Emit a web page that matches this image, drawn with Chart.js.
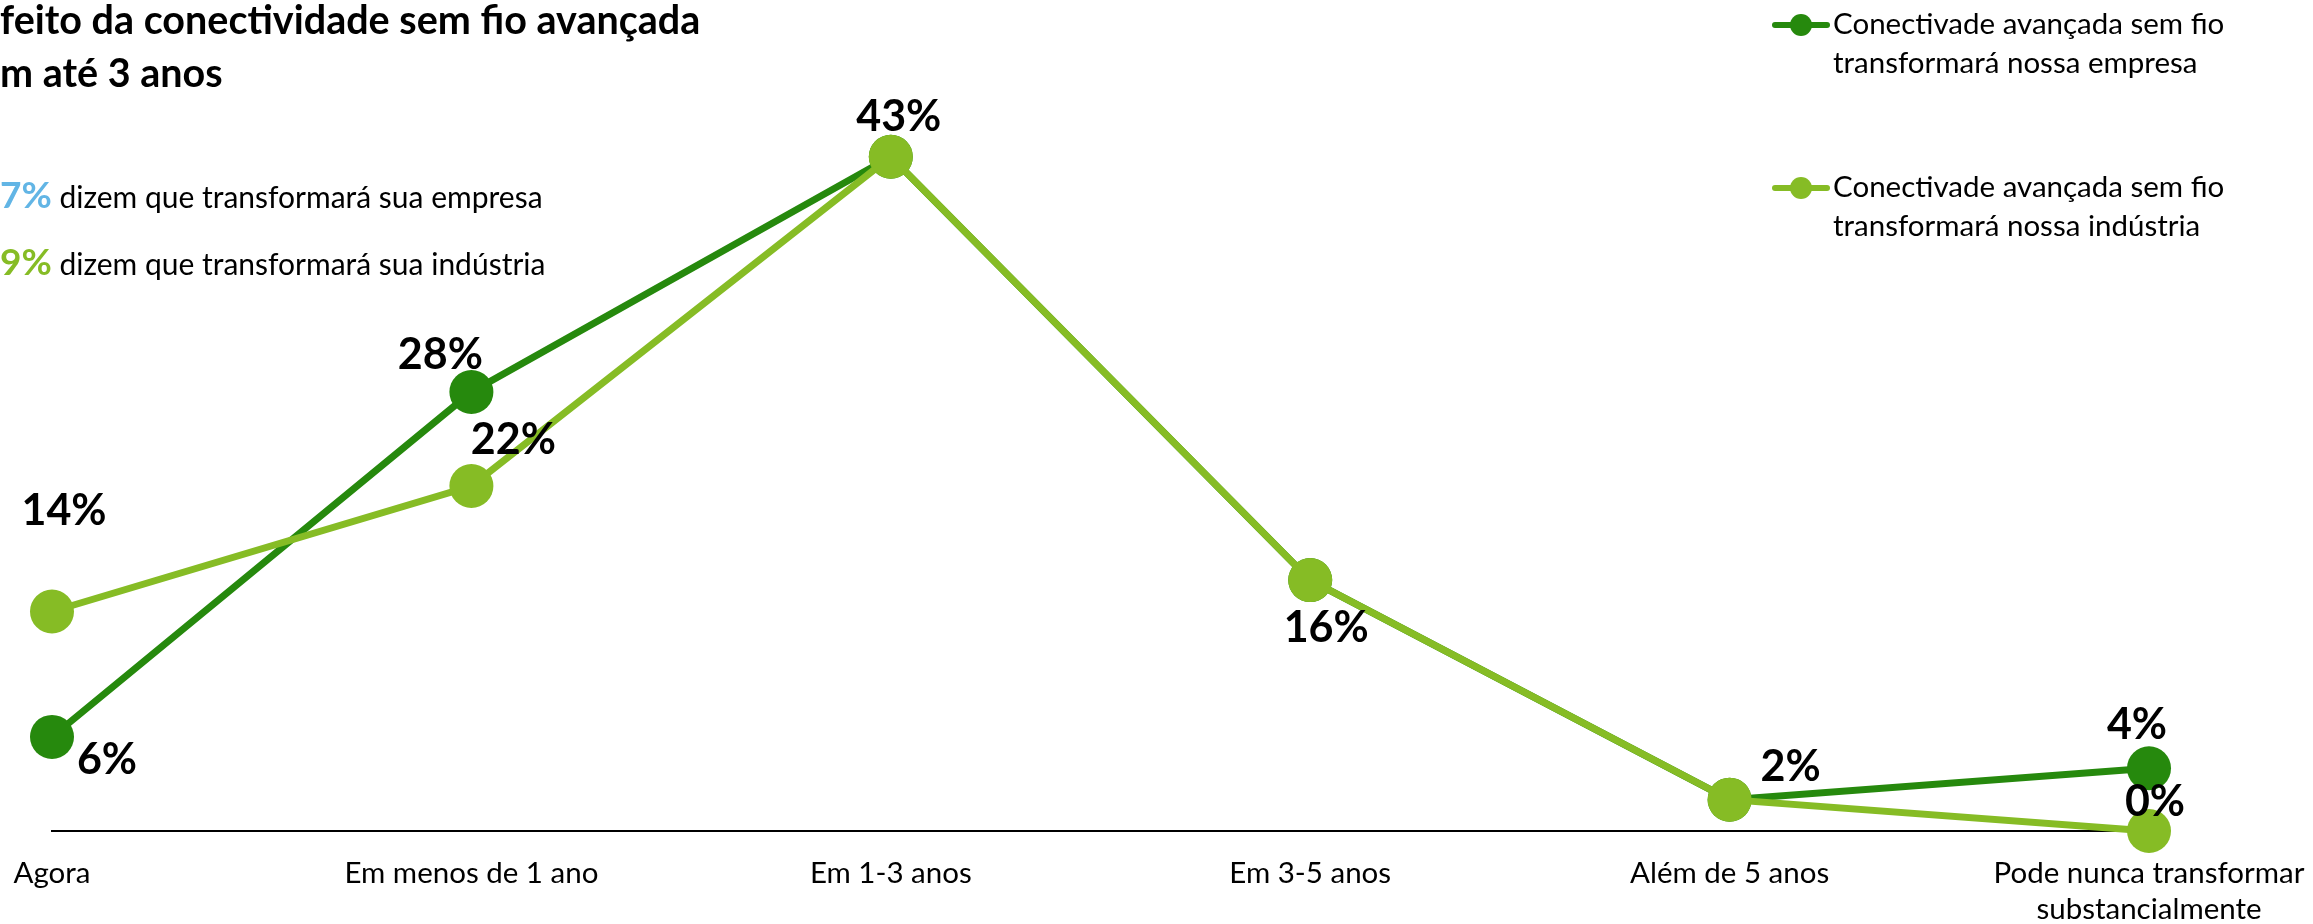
<!DOCTYPE html>
<html>
<head>
<meta charset="utf-8">
<script src="https://cdn.jsdelivr.net/npm/chart.js@4/dist/chart.umd.min.js"></script>
<style>
  body { margin: 0; width: 2313px; height: 924px; position: relative; overflow: hidden; background: #fff; font-family: Lato, sans-serif; color: #000; }
  canvas { position: absolute; left: 0; top: 0; }
  .title { position: absolute; left: 0; top: -8px; font-weight: bold; font-size: 39.5px; line-height: 53px; white-space: nowrap; }
  .sub { position: absolute; left: 0; font-size: 30px; line-height: 1; white-space: nowrap; }
  .sub b { font-size: 37px; line-height: 1; }
  .leg { position: absolute; left: 1833px; font-size: 29.5px; line-height: 39px; white-space: nowrap; }
  .sw { position: absolute; left: 1772px; width: 58px; height: 6px; border-radius: 3px; }
  .sw i { position: absolute; left: 18px; top: -8px; width: 22px; height: 22px; border-radius: 50%; background: inherit; }
</style>
</head>
<body>
<canvas id="chart" width="2313" height="924"></canvas>
<div class="title">feito da conectividade sem fio avançada<br>m até 3 anos</div>
<div class="sub" style="top:175px"><b style="color:#62B5E5">7%</b> dizem que transformará sua empresa</div>
<div class="sub" style="top:242px"><b style="color:#86BC25">9%</b> dizem que transformará sua indústria</div>
<div id="legend"></div>
<script>
// Dados
const categories = ['Agora', 'Em menos de 1 ano', 'Em 1-3 anos', 'Em 3-5 anos', 'Além de 5 anos', ['Pode nunca transformar', 'substancialmente']];
const empresaValues = [6, 28, 43, 16, 2, 4];
const industriaValues = [14, 22, 43, 16, 2, 0];
const seriesNames = [
    ['Conectivade avançada sem fio', 'transformará nossa empresa'],
    ['Conectivade avançada sem fio', 'transformará nossa indústria']
];

const DARK = '#26890D';
const LIGHT = '#86BC25';

// Posicao dos rotulos em relacao ao ponto (null = sem rotulo)
const labelOffsets = [
    [[55, 23], [-31, -37], null, null, null, [-12, -43]],
    [[12, -100], [42, -46], [8, -40], [16, 48], [61, -33], [6, -29]]
];

const pointLabels = {
    id: 'pointLabels',
    afterDatasetsDraw(chart) {
        const ctx = chart.ctx;
        ctx.save();
        ctx.font = 'bold 43px Lato, sans-serif';
        ctx.fillStyle = '#000';
        ctx.textAlign = 'center';
        ctx.textBaseline = 'middle';
        chart.data.datasets.forEach((ds, di) => {
            const meta = chart.getDatasetMeta(di);
            meta.data.forEach((pt, i) => {
                const off = labelOffsets[di][i];
                if (!off) return;
                ctx.fillText(ds.data[i] + '%', pt.x + off[0], pt.y + off[1]);
            });
        });
        ctx.restore();
    }
};

function series(name, data, color, order) {
    return {
        label: name.join(' '), data, order,
        borderColor: color, backgroundColor: color,
        pointBackgroundColor: color, pointBorderWidth: 0,
        pointRadius: 22, pointHoverRadius: 22,
        borderWidth: 7, tension: 0, clip: false
    };
}

new Chart(document.getElementById('chart'), {
    type: 'line',
    data: {
        labels: categories,
        datasets: [
            series(seriesNames[0], empresaValues, DARK, 1),
            series(seriesNames[1], industriaValues, LIGHT, 0)
        ]
    },
    options: {
        responsive: false,
        animation: false,
        devicePixelRatio: 1,
        layout: { padding: { left: 52, right: 164, top: 47, bottom: 0 } },
        scales: {
            x: {
                offset: false,
                grid: { display: false, drawTicks: false },
                border: { display: true, color: '#000', width: 2 },
                ticks: {
                    color: '#000', padding: 25, maxRotation: 0, autoSkip: false,
                    font: { family: 'Lato', size: 29.5, lineHeight: 1.2 }
                },
                afterFit(scale) {
                    // area do grafico fixa: sem folga extra para os rotulos das pontas
                    scale.height = 93;
                    scale.paddingLeft = 0;
                    scale.paddingRight = 0;
                }
            },
            y: { display: false, min: 0, max: 50 }
        },
        plugins: { legend: { display: false }, tooltip: { enabled: false } }
    },
    plugins: [pointLabels]
});

// Legenda em HTML
const legendTops = [3, 166];
const swatchTops = [22, 185];
const legendEl = document.getElementById('legend');
seriesNames.forEach((name, i) => {
    const color = i === 0 ? DARK : LIGHT;
    legendEl.insertAdjacentHTML('beforeend',
        `<div class="sw" style="top:${swatchTops[i]}px;background:${color}"><i></i></div>` +
        `<div class="leg" style="top:${legendTops[i]}px">${name.join('<br>')}</div>`);
});
</script>
</body>
</html>
